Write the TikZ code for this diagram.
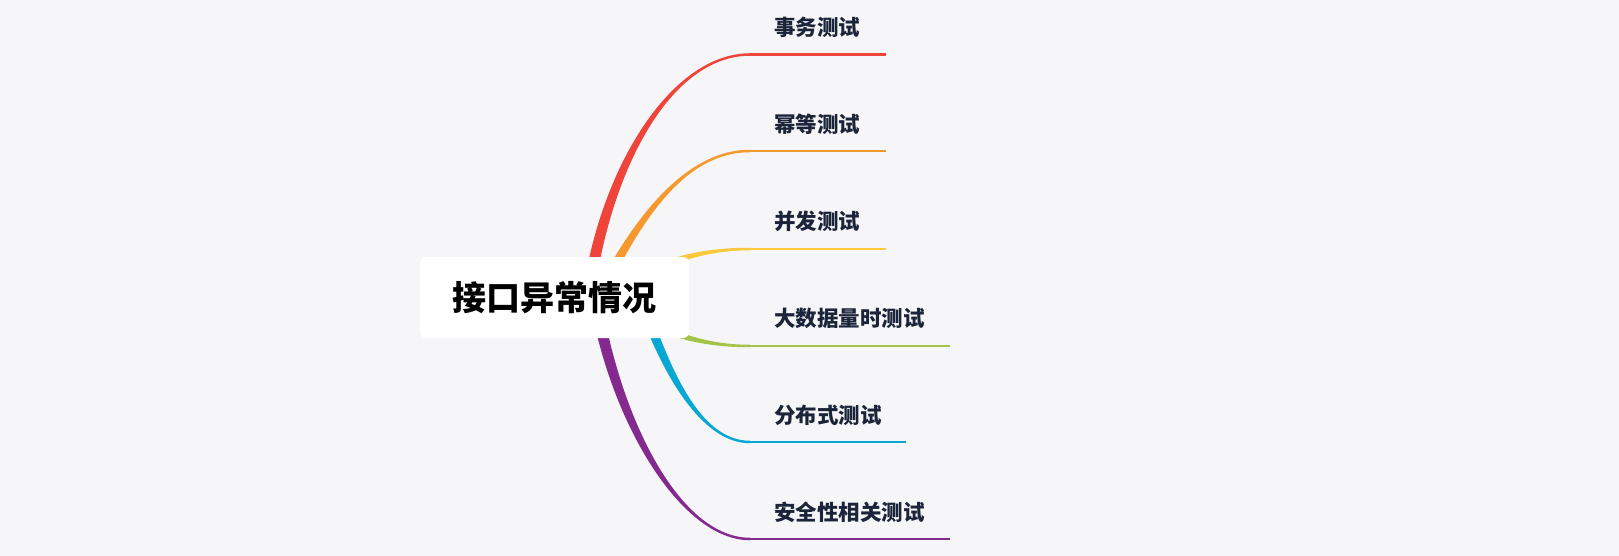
\documentclass[tikz,border=0pt]{standalone}
\usepackage{fontspec}
\newfontfamily\cjk{Noto Sans CJK SC}
\usetikzlibrary{calc}
\definecolor{bgc}{HTML}{F6F6F9}
\definecolor{leafc}{HTML}{1B2439}
\definecolor{cred}{HTML}{F0443A}
\definecolor{corange}{HTML}{F7982F}
\definecolor{cyellow}{HTML}{FCC83C}
\definecolor{cgreen}{HTML}{A3C449}
\definecolor{cblue}{HTML}{08A8D2}
\definecolor{cpurple}{HTML}{84298E}
% #1 colour, #2 prefix, #3 start offset x, #4 start offset y, #5 end offset y
\newcommand\mybranch[5]{%
  \fill[#1] ($(#2a)+(#3,#4)$) .. controls ($(#2b)+(#3,#4)$) and ($(#2c)+(0,#5)$) .. ($(#2d)+(0,#5)$)
    -- ($(#2d)-(0,#5)$) .. controls ($(#2c)-(0,#5)$) and ($(#2b)-(#3,#4)$) .. ($(#2a)-(#3,#4)$) -- cycle;
  \draw[#1,line width=2.5pt] (#2d) -- (#2T);
}
\begin{document}
\begin{tikzpicture}[x=1pt,y=-1pt,
  leaf/.style={anchor=west,inner sep=0pt,text=leafc,font=\cjk\bfseries\fontsize{21.5}{24}\selectfont},
  rootbox/.style={fill=white,rounded corners=6pt,minimum width=269pt,minimum height=81pt,inner sep=0pt,
    text=black,font=\cjk\bfseries\fontsize{34}{38}\selectfont}]
\fill[bgc] (0,0) rectangle (1619,556);
\useasboundingbox (0,0) rectangle (1619,556);

% red
\coordinate (ra) at (588,297); \coordinate (rb) at (605,170); \coordinate (rc) at (670,54.5);
\coordinate (rd) at (750,54.5); \coordinate (rT) at (886,54.5);
% orange
\coordinate (oa) at (598,297); \coordinate (ob) at (632,230); \coordinate (oc) at (680,151);
\coordinate (od) at (750,151); \coordinate (oT) at (886,151);
% yellow
\coordinate (ya) at (620,288); \coordinate (yb) at (660,262); \coordinate (yc) at (700,249);
\coordinate (yd) at (750,249); \coordinate (yT) at (886,249);
% green
\coordinate (ga) at (620,306); \coordinate (gb) at (660,332); \coordinate (gc) at (700,346);
\coordinate (gd) at (750,346); \coordinate (gT) at (950,346);
% blue
\coordinate (ba) at (640,297); \coordinate (bb) at (665,370); \coordinate (bc) at (700,442);
\coordinate (bd) at (750,442); \coordinate (bT) at (906,442);
% purple
\coordinate (pa) at (595,297); \coordinate (pb) at (615,420); \coordinate (pc) at (680,539);
\coordinate (pd) at (750,539); \coordinate (pT) at (950,539);

\mybranch{cred}{r}{-5.8}{0}{-1.25}
\mybranch{corange}{o}{-5.3}{0}{-1.25}
\mybranch{cyellow}{y}{0}{-4.5}{-1.25}
\mybranch{cgreen}{g}{0}{-4.5}{-1.25}
\mybranch{cblue}{b}{-5.3}{0}{1.25}
\mybranch{cpurple}{p}{-5.8}{0}{1.25}

\node[rootbox] (root) at (554.5,297.5) {接口异常情况};

\node[leaf] (l1) at (774,27.5) {事务测试};
\node[leaf] (l2) at (774,124) {幂等测试};
\node[leaf] (l3) at (774,221.5) {并发测试};
\node[leaf] (l4) at (774,318.5) {大数据量时测试};
\node[leaf] (l5) at (774,415) {分布式测试};
\node[leaf] (l6) at (774,512) {安全性相关测试};
\end{tikzpicture}
\end{document}
